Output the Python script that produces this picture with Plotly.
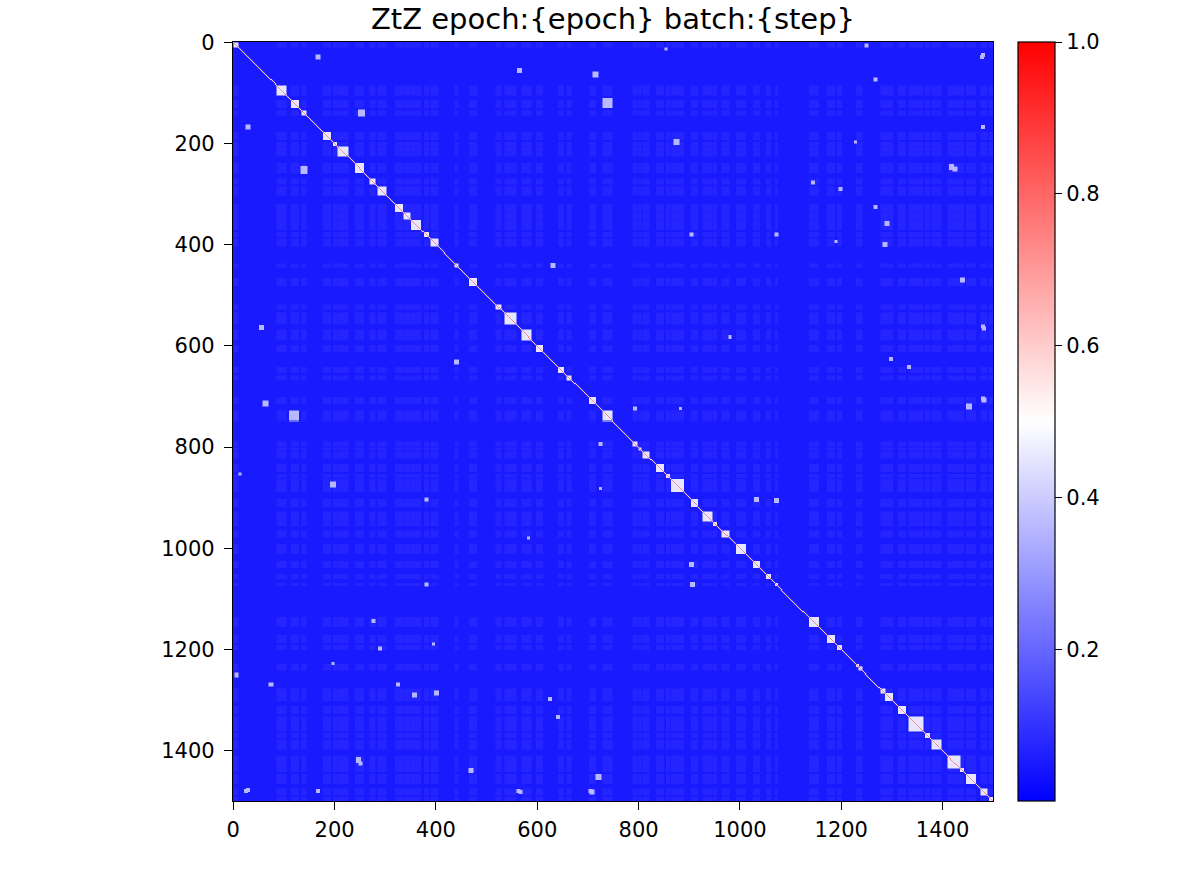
import numpy as np
import plotly.graph_objects as go

N = 1500
title_text = "ZtZ epoch:{epoch} batch:{step}"
tick_vals = [0, 200, 400, 600, 800, 1000, 1200, 1400]
cbar_ticks = [0.2, 0.4, 0.6, 0.8, 1.0]

# diagonal cluster blocks (center index, size)
block_centers = [6, 95, 122, 140, 186, 202, 217, 249, 275, 294,
                 328, 344, 362, 381, 397, 441, 474, 524, 547, 579,
                 605, 648, 664, 709, 739, 794, 804, 816, 842, 858,
                 877, 911, 937, 952, 972, 1002, 1033, 1057, 1073, 1146,
                 1180, 1197, 1233, 1239, 1282, 1294, 1320, 1348, 1371, 1389,
                 1423, 1438, 1456, 1482, 1496]
block_sizes = [10, 20, 16, 10, 16, 8, 20, 18, 12, 18,
               16, 14, 20, 10, 16, 8, 16, 10, 24, 20,
               14, 12, 10, 14, 20, 10, 6, 14, 16, 8,
               26, 14, 20, 8, 14, 20, 14, 10, 6, 20,
               16, 10, 6, 8, 10, 16, 16, 30, 10, 20,
               24, 8, 20, 14, 8]

# off-diagonal bright patches (row, col, size), mirrored across the diagonal
spot_rows = [120, 198, 57, 715, 721, 401, 441, 140, 30, 907,
             905, 470, 708, 75, 247, 359, 381, 381, 567, 725,
             7, 30, 626, 642, 290, 1144, 1229, 1269, 1190, 1480,
             1425, 883, 980, 854, 1480, 1480, 1480]
spot_cols = [739, 875, 565, 65, 1452, 1286, 632, 253, 168, 1073,
             1033, 1439, 1482, 1269, 1419, 1290, 1073, 905, 1482, 794,
             1251, 1478, 1298, 1334, 1199, 277, 198, 326, 395, 705,
             251, 725, 583, 14, 26, 168, 563]
spot_sizes = [20, 12, 10, 12, 12, 10, 10, 14, 10, 10,
              10, 10, 10, 8, 10, 10, 8, 8, 8, 8,
              8, 8, 8, 8, 8, 8, 6, 8, 6, 8,
              8, 6, 6, 6, 8, 8, 8]

background_level = 0.05
cross_level = 0.072
block_level = 0.45
spot_level = 0.36
near_diag_level = 0.25
diag_level = 1.0

# ---- build the matrix from the lists above ----
Z = np.full((N, N), background_level)
in_block = np.zeros(N, dtype=bool)
for c, s in zip(block_centers, block_sizes):
    a, b = max(0, c - s // 2), min(N, c + s // 2)
    in_block[a:b] = True
cross = np.outer(in_block, in_block)
Z[cross] = cross_level
for c, s in zip(block_centers, block_sizes):
    a, b = max(0, c - s // 2), min(N, c + s // 2)
    Z[a:b, a:b] = block_level
for r, c, s in zip(spot_rows, spot_cols, spot_sizes):
    r0, r1 = max(0, r - s // 2), min(N, r + s // 2)
    c0, c1 = max(0, c - s // 2), min(N, c + s // 2)
    Z[r0:r1, c0:c1] = spot_level
    Z[c0:c1, r0:r1] = spot_level
idx = np.arange(N)
Z[idx[:-1], idx[1:]] = np.maximum(Z[idx[:-1], idx[1:]], near_diag_level)
Z[idx[1:], idx[:-1]] = np.maximum(Z[idx[1:], idx[:-1]], near_diag_level)
Z[idx, idx] = diag_level

# 2x2 average to screen resolution
Zs = Z.reshape(N // 2, 2, N // 2, 2).mean(axis=(1, 3)).astype(np.float32)

bwr = [[0.0, "rgb(0,0,255)"], [0.5, "rgb(255,255,255)"], [1.0, "rgb(255,0,0)"]]

# plot box in reference: x 233..993, y 42..801 (page body margin removed below)
L, T, PW, PH = 233, 42, 760, 759
W, H = 1196, 871

fig = go.Figure(go.Heatmap(
    z=Zs, x0=0.5, dx=2, y0=0.5, dy=2,
    colorscale=bwr, zmin=0.0, zmax=1.0, zsmooth=False,
    colorbar=dict(
        x=(1018 - L) / PW, xanchor="left", xref="paper", xpad=0,
        y=0.5, yanchor="middle", len=1.0, lenmode="fraction", ypad=0,
        thickness=37, outlinewidth=1.2, outlinecolor="black",
        tickvals=cbar_ticks, ticktext=[f"{t:.1f}" for t in cbar_ticks],
        ticks="outside", ticklen=7, tickwidth=1.2, tickcolor="black",
        tickfont=dict(family="DejaVu Sans", size=21, color="black"),
    ),
))

axis_common = dict(
    showgrid=False, zeroline=False, showline=True, mirror=True,
    linecolor="black", linewidth=1.3, ticks="outside", ticklen=8,
    tickwidth=1.3, tickcolor="black", tickvals=tick_vals,
    ticktext=[str(v) for v in tick_vals],
    tickfont=dict(family="DejaVu Sans", size=21, color="black"),
)
fig.update_xaxes(range=[-0.5, 1499.5], ticklabelstandoff=2, **axis_common)
fig.update_yaxes(range=[1499.5, -0.5], ticklabelstandoff=5, **axis_common)

fig.update_layout(
    width=W, height=H,
    margin=dict(l=L, r=W - L - PW, t=T, b=H - T - PH, pad=0),
    paper_bgcolor="white", plot_bgcolor="white",
    title=dict(text=title_text, x=(L + PW / 2) / W, xanchor="center",
               y=1 - 18.5 / H, yanchor="middle", yref="container",
               font=dict(family="DejaVu Sans", size=29, color="black")),
)

fig.write_html("out.html",
               config={"displayModeBar": False},
               post_script="document.body.style.margin='0px';")
